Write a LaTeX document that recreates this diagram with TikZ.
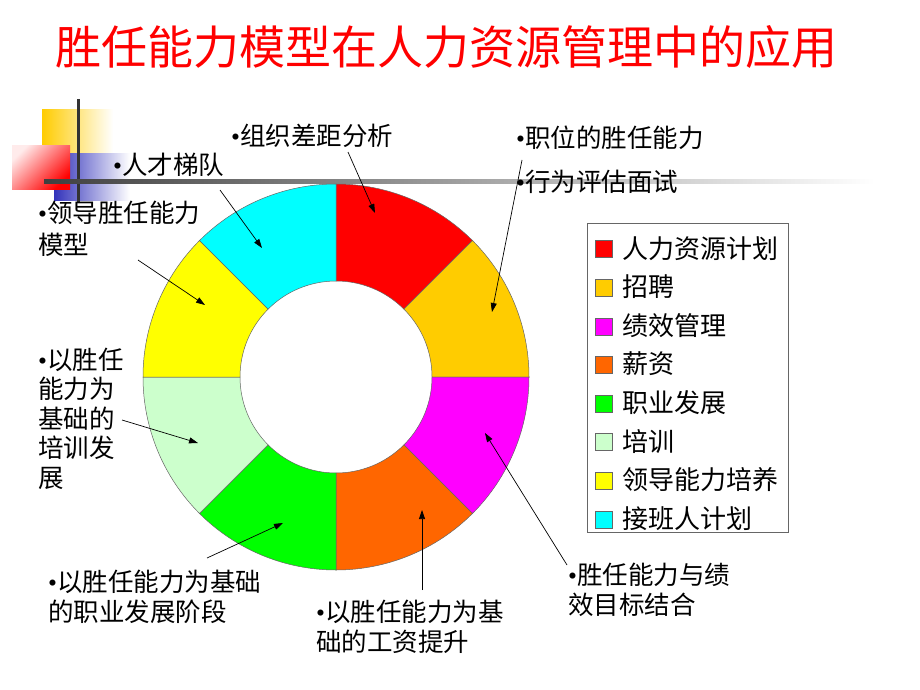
\documentclass[tikz,border=0pt]{standalone}
\usepackage{fontspec}
\setmainfont{Noto Sans CJK SC}
\newfontfamily\bulfont{Liberation Serif}
\usepackage{tikz}
\usetikzlibrary{arrows.meta}
\definecolor{hrred}{RGB}{255,0,0}
\definecolor{hrorange}{RGB}{255,204,0}
\definecolor{hrmagenta}{RGB}{255,0,255}
\definecolor{hrpay}{RGB}{255,102,0}
\definecolor{hrgreen}{RGB}{0,255,0}
\definecolor{hrpale}{RGB}{204,255,204}
\definecolor{hryellow}{RGB}{255,255,0}
\definecolor{hrcyan}{RGB}{0,255,255}
\definecolor{decoblue}{RGB}{51,51,187}
\newcommand\bul{{\bulfont •}}
\tikzset{
  lbl/.style   ={anchor=base west, inner sep=0pt, align=left,
                 font=\fontsize{25.5}{29.5}\selectfont},
  keytxt/.style={anchor=base west, inner sep=0pt, font=\fontsize{26}{26}\selectfont},
  key/.style   ={draw=black!60, minimum size=17pt, inner sep=0pt},
  seg/.style   ={draw=black!60, line width=0.5pt},
  ptr/.style   ={-{Triangle[length=9pt,width=6pt]}, line width=0.7pt},
}

\begin{document}
\begin{tikzpicture}[x=1pt, y=-1pt]
    \useasboundingbox (0,0) rectangle (920,690);

    % corner ornament
    \shade[left color=hrorange, right color=white] (42,110) rectangle (113,153);
    \shade[left color=decoblue, right color=white] (54,153) rectangle (130,200);
    \shade[left color=hrred!8, right color=hrred, shading angle=45] (12,145) rectangle (70,189);
    \draw[line width=3pt, black!80] (78,99) -- (78,203);
    \shade[left color=black!75, right color=white] (44,179) rectangle (875,183);

    % title
    \node[anchor=base, inner sep=0pt, text=hrred, font=\fontsize{46}{48}\selectfont]
        (title) at (446,65) {胜任能力模型在人力资源管理中的应用};

    % ring
    \begin{scope}[shift={(336,377)}]
      \foreach \col [count=\i] in {hrred, hrorange, hrmagenta, hrpay,
                                   hrgreen, hrpale, hryellow, hrcyan}{
        \pgfmathsetmacro\a{135-45*\i}
        \pgfmathsetmacro\b{\a-45}
        \filldraw[seg, fill=\col] (\a:193pt) arc[start angle=\a, end angle=\b, radius=193pt]
          -- (\b:96pt) arc[start angle=\b, end angle=\a, radius=96pt] -- cycle;
      }
    \end{scope}

    % legend
    \draw[black!60] (587,223) rectangle (788,532);
    \foreach \col/\txt [count=\i] in {hrred/人力资源计划, hrorange/招聘, hrmagenta/绩效管理,
                                      hrpay/薪资, hrgreen/职业发展, hrpale/培训,
                                      hryellow/领导能力培养, hrcyan/接班人计划}{
      \node[key, fill=\col] (k\i) at (603.5,{249+38.6*(\i-1)}) {};
      \node[keytxt] (t\i) at (622,{258+38.6*(\i-1)}) {\txt};
    }

    % labels (base = last line)
    \node[lbl] (gap)    at (231,145) {\bul 组织差距分析};
    \node[lbl] (ladder) at (113,174) {\bul 人才梯队};
    \node[lbl] (lead)   at (38,254)  {\bul 领导胜任能力\\[2.5pt]模型};
    \node[lbl] (train)  at (38,487)  {\bul 以胜任\\能力为\\基础的\\培训发\\展};
    \node[lbl] (career) at (48,621)  {\bul 以胜任能力为基础\\的职业发展阶段};
    \node[lbl] (pay)    at (316,651) {\bul 以胜任能力为基\\础的工资提升};
    \node[lbl] (perf)   at (568,614) {\bul 胜任能力与绩\\效目标结合};
    \node[lbl] (post)   at (516,147) {\bul 职位的胜任能力};
    \node[lbl] (bei)    at (516,191) {\bul 行为评估面试};

    % pointers
    \coordinate (gapS)    at (348,152); \coordinate (gapT)    at (375,213);
    \coordinate (ladderS) at (220,190); \coordinate (ladderT) at (262,248);
    \coordinate (leadS)   at (138,260); \coordinate (leadT)   at (205,305);
    \coordinate (trainS)  at (122,420); \coordinate (trainT)  at (198,443);
    \coordinate (careerS) at (207,558); \coordinate (careerT) at (283,523);
    \coordinate (payS)    at (422,590); \coordinate (payT)    at (422,510);
    \coordinate (perfS)   at (567,565); \coordinate (perfT)   at (485,433);
    \coordinate (beiS)    at (522,160); \coordinate (beiT)    at (492,312);
    \foreach \p in {gap, ladder, lead, train, career, pay, perf, bei}{
      \draw[ptr] (\p S) -- (\p T);
    }
\end{tikzpicture}
\end{document}
